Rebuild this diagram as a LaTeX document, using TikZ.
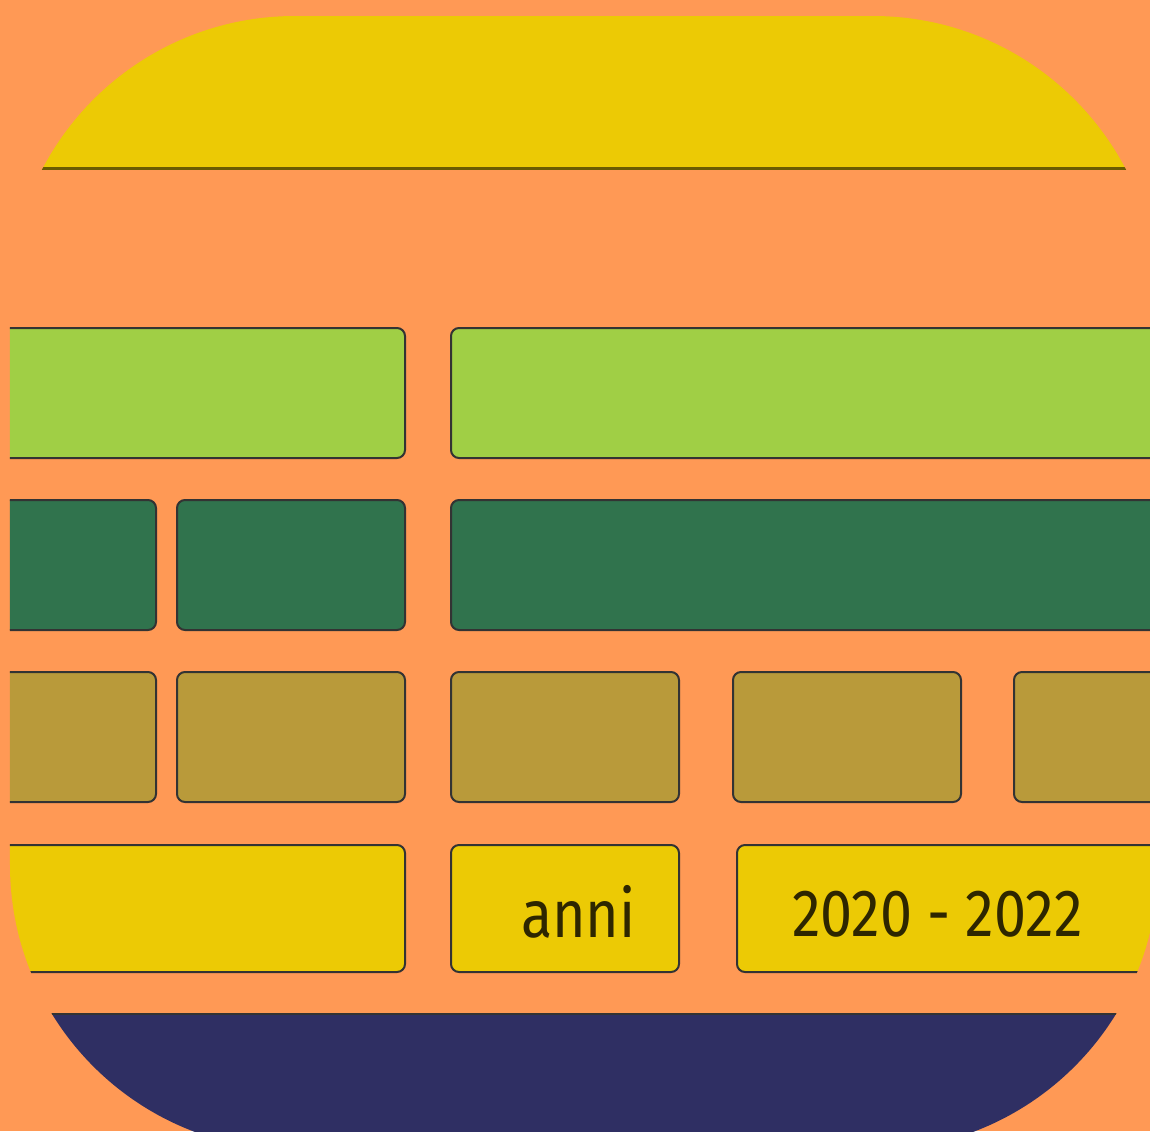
\documentclass[tikz,border=0pt]{standalone}
\usepackage{fontspec}
\usepackage{tikz}
\usetikzlibrary{positioning}
\newfontfamily\tilefont{Fira Sans}[FakeStretch=0.86]
\definecolor{bgorange}{HTML}{FF9955}
\definecolor{sunyellow}{HTML}{ECCA05}
\definecolor{limegreen}{HTML}{A0CF45}
\definecolor{pinegreen}{HTML}{30734D}
\definecolor{ochre}{HTML}{B99A3A}
\definecolor{nightblue}{HTML}{2F2F63}
\definecolor{tileline}{HTML}{333333}
\definecolor{inkbrown}{HTML}{2E2600}

\begin{document}
\begin{tikzpicture}[
    node distance=0.92cm,
    tile/.style={draw=tileline, line width=0.04cm, rounded corners=0.16cm, minimum width=4.56cm, minimum height=2.6cm, inner sep=0pt, outer sep=0pt},
    limebox/.style={tile, fill=limegreen},
    pinebox/.style={tile, fill=pinegreen},
    ochrebox/.style={tile, fill=ochre},
    sunbox/.style={tile, fill=sunyellow, minimum height=2.54cm},
    tiletext/.style={inner sep=0pt, outer sep=0pt, text=inkbrown, font=\tilefont\fontsize{38}{38}\selectfont}
]
\fill[bgorange] (0,0) rectangle (23,-22.62);
\useasboundingbox (0,0) rectangle (23,-22.62);
\begin{scope}
\clip[rounded corners=5.7cm] (0.2,-0.32) rectangle (23.16,-23.0);
\fill[sunyellow] (0,0.5) rectangle (24,-3.36);
\draw[line width=0.06cm, draw=black!55!sunyellow] (0,-3.36) -- (24,-3.36);
\fill[nightblue] (0,-20.28) rectangle (24,-24);
\draw[line width=0.05cm, draw=tileline] (0,-20.28) -- (24,-20.28);

\node[limebox, minimum width=9.54cm, anchor=north west] (r1a) at (-1.44,-6.56) {};
\node[limebox, minimum width=16cm, right=of r1a] (r1b) {};

\node[pinebox, anchor=north west] (r2a) at (-1.44,-10) {};
\node[pinebox, right=0.42cm of r2a] (r2b) {};
\node[pinebox, minimum width=16cm, right=of r2b] (r2c) {};

\node[ochrebox, anchor=north west] (r3a) at (-1.44,-13.44) {};
\node[ochrebox, right=0.42cm of r3a] (r3b) {};
\node[ochrebox, right=of r3b] (r3c) {};
\node[ochrebox, right=1.08cm of r3c] (r3d) {};
\node[ochrebox, right=1.06cm of r3d] (r3e) {};

\node[sunbox, minimum width=9.54cm, anchor=north west] (r4a) at (-1.44,-16.9) {};
\node[sunbox, right=of r4a] (anni) {};
\node[sunbox, minimum width=12cm, right=1.16cm of anni] (years) {};
\node[tiletext, right=1.4cm of anni.west, yshift=-0.07cm] (annitext) {anni};
\node[tiletext, right=1.1cm of years.west, yshift=-0.11cm] (yearstext) {2020 - 2022};
\end{scope}
\end{tikzpicture}
\end{document}
